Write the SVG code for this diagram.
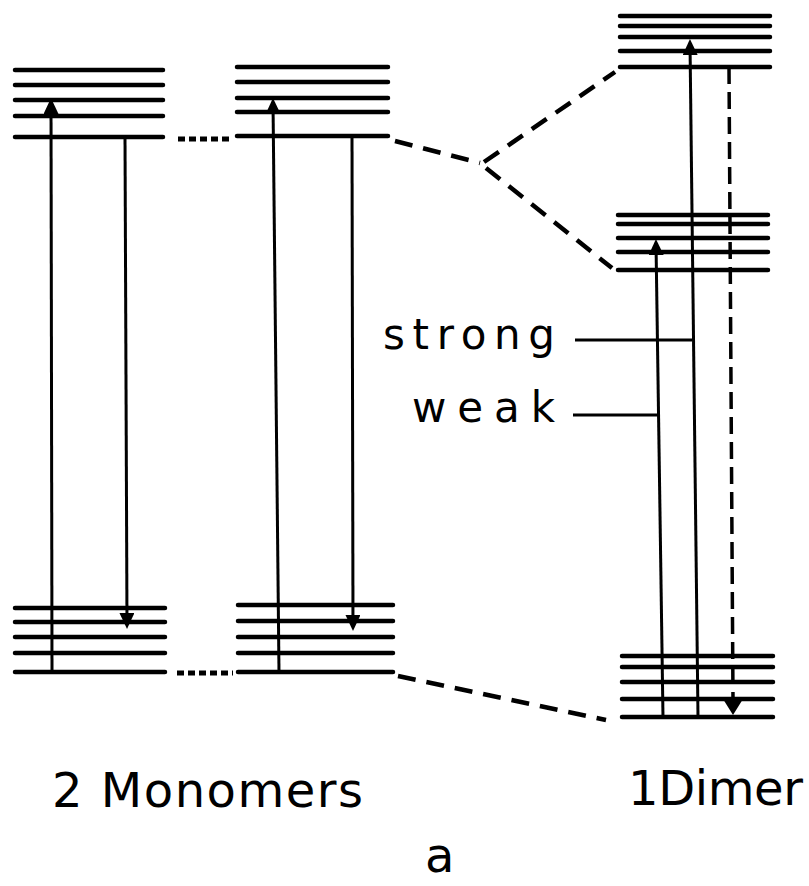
<svg xmlns="http://www.w3.org/2000/svg" width="809" height="886" viewBox="0 0 809 886">
  <style>
    .lvl { stroke: #000; stroke-width: 4.5; stroke-linecap: round; fill: none; }
    .tr { stroke: #000; stroke-width: 3; fill: none; }
    .dash { stroke: #000; stroke-width: 4.5; stroke-dasharray: 18 11; stroke-linecap: butt; fill: none; }
    .dots { stroke: #000; stroke-width: 5; stroke-dasharray: 7 4; fill: none; }
    .vdash { stroke: #000; stroke-width: 3.5; stroke-dasharray: 17 8; fill: none; }
    .lbl { font-family: "DejaVu Sans", "Liberation Sans", sans-serif; fill: #000; }
  </style>
  <defs>
    <marker id="head" viewBox="0 0 16 15" markerWidth="16" markerHeight="15" refX="12" refY="7.5" orient="auto" markerUnits="userSpaceOnUse">
      <path d="M0,0 L16,7.5 L0,15 z" fill="#000"/>
    </marker>
    <marker id="headBig" viewBox="0 0 16 20" markerWidth="16" markerHeight="20" refX="12" refY="10" orient="auto" markerUnits="userSpaceOnUse">
      <path d="M0,0 L16,10 L0,20 z" fill="#000"/>
    </marker>
  </defs>

  <!-- first monomer -->
  <g id="monomer1">
    <path class="lvl" d="M15,70 H163 M15,85 H163 M15,100 H163 M15,116 H163 M15,137 H163"/>
    <path class="lvl" d="M15,608 H165 M15,622 H165 M15,637 H165 M15,653 H165 M15,672 H165"/>
    <line class="tr" x1="52" y1="672" x2="51" y2="102" marker-end="url(#head)"/>
    <line class="tr" x1="125" y1="137" x2="127" y2="625" marker-end="url(#head)"/>
  </g>

  <!-- second monomer -->
  <g id="monomer2">
    <path class="lvl" d="M237,67 H388 M237,82 H388 M237,98 H388 M237,112 H388 M237,136 H388"/>
    <path class="lvl" d="M238,605 H393 M238,621 H393 M238,637 H393 M238,653 H393 M238,672 H393"/>
    <line class="tr" x1="279" y1="672" x2="273" y2="102" marker-end="url(#head)"/>
    <line class="tr" x1="352" y1="136" x2="353" y2="627" marker-end="url(#head)"/>
  </g>

  <!-- dimer levels and transitions -->
  <g id="dimer">
    <path class="lvl" d="M620,16 H770 M620,26 H770 M620,37 H770 M620,51 H770 M620,67 H770"/>
    <path class="lvl" d="M618,215 H768 M618,224 H768 M618,238 H768 M618,252 H768 M618,270 H768"/>
    <path class="lvl" d="M622,656 H773 M622,667 H773 M622,682 H773 M622,699 H773 M622,717 H773"/>
    <line class="tr" x1="663" y1="717" x2="656" y2="243" marker-end="url(#head)"/>
    <line class="tr" x1="698" y1="717" x2="690" y2="43" marker-end="url(#head)"/>
    <line class="vdash" x1="729" y1="67" x2="733" y2="700"/>
    <line class="tr" x1="733" y1="698" x2="733" y2="711" marker-end="url(#headBig)"/>
  </g>

  <!-- correlation connectors and label leaders -->
  <g id="connectors">
    <line class="dots" x1="178" y1="139" x2="230" y2="139"/>
    <line class="dots" x1="177" y1="673" x2="233" y2="673"/>
    <line class="dash" x1="395" y1="141" x2="480" y2="163"/>
    <line class="dash" x1="484" y1="162" x2="615" y2="72"/>
    <line class="dash" x1="486" y1="168" x2="612" y2="268"/>
    <line class="dash" x1="398" y1="676" x2="606" y2="720"/>
    <line class="tr" x1="575" y1="340" x2="692" y2="340"/>
    <line class="tr" x1="573" y1="415" x2="658" y2="415"/>
  </g>

  <!-- labels -->
  <g id="labels">
    <text class="lbl" x="383" y="349" font-size="42" textLength="172" lengthAdjust="spacing">strong</text>
    <text class="lbl" x="412" y="422" font-size="42" textLength="143" lengthAdjust="spacing">weak</text>
    <text class="lbl" x="52" y="807" font-size="48" textLength="311" lengthAdjust="spacing">2 Monomers</text>
    <text class="lbl" x="628" y="805" font-size="48" textLength="175" lengthAdjust="spacing">1Dimer</text>
    <text class="lbl" x="425" y="872" font-size="48">a</text>
  </g>
</svg>
